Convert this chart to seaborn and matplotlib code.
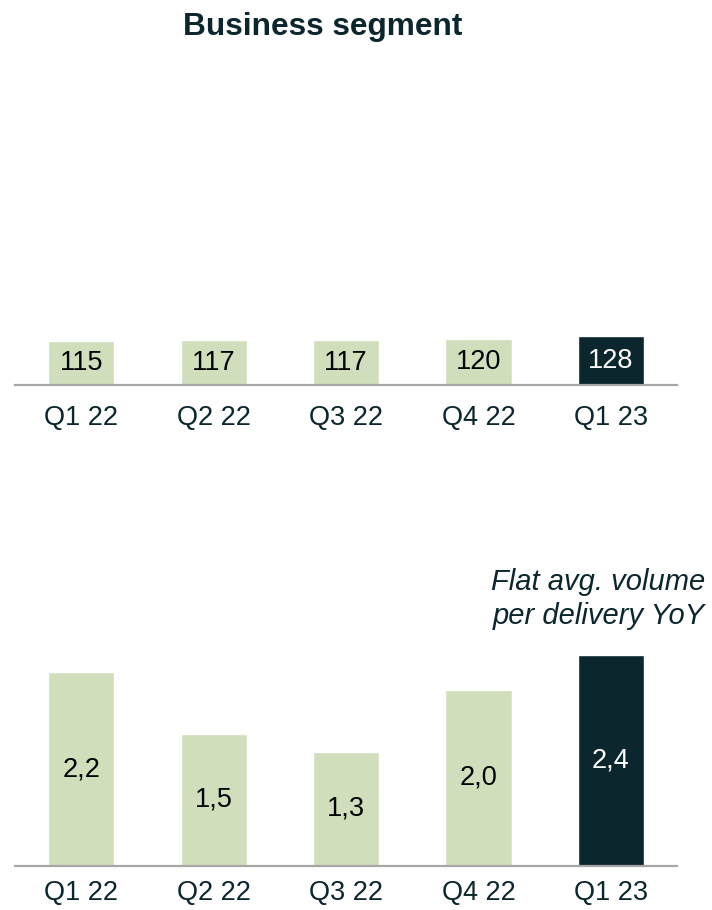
import matplotlib
matplotlib.use("Agg")
import matplotlib.pyplot as plt
import seaborn as sns

# Data
quarters = ["Q1 22", "Q2 22", "Q3 22", "Q4 22", "Q1 23"]
deliveries = [115, 117, 117, 120, 128]
volume = [2.2, 1.5, 1.3, 2.0, 2.4]

LIGHT = "#D0DEBC"
DARK = "#0B272D"
GRID = "#A6A6A6"
bar_colors = [LIGHT, LIGHT, LIGHT, LIGHT, DARK]
text_colors = ["black", "black", "black", "black", "white"]

sns.set_style("white")
plt.rcParams["font.family"] = ["Liberation Sans", "DejaVu Sans"]


# Function to draw one bar panel
def draw_panel(ax, values, labels, ymax, pad):
    sns.barplot(x=quarters, y=values, hue=quarters, palette=bar_colors,
                legend=False, width=0.5, saturation=1, ax=ax)
    ax.set_xlim(-0.5, 4.5)
    ax.set_ylim(0, ymax)
    for container, lab, col in zip(ax.containers, labels, text_colors):
        ax.bar_label(container, labels=[lab], label_type="center",
                     fontsize=19.5, color=col)
    for side in ["top", "right", "left"]:
        ax.spines[side].set_visible(False)
    ax.spines["bottom"].set_color(GRID)
    ax.spines["bottom"].set_linewidth(1.6)
    ax.set_yticks([])
    ax.set_xlabel("")
    ax.set_ylabel("")
    ax.tick_params(axis="x", length=0, pad=pad, labelsize=19.5, labelcolor=DARK)


fig = plt.figure(figsize=(7.12, 9.10), dpi=100)
W, H = 712, 910

ax1 = fig.add_axes([15 / W, 1 - 385 / H, 662 / W, 285 / H])
draw_panel(ax1, deliveries, [str(v) for v in deliveries], 285 / (44 / 115), 14.5)

ax2 = fig.add_axes([15 / W, 1 - 866 / H, 662 / W, 306 / H])
draw_panel(ax2, volume, [f"{v:.1f}".replace(".", ",") for v in volume], 306 / 88, 10)

fig.text(323 / W, 1 - 35 / H, "Business segment", ha="center", va="baseline",
         fontsize=22.8, fontweight="bold", color=DARK)
fig.text(705 / W, 1 - 590 / H, "Flat avg. volume", ha="right", va="baseline",
         fontsize=21, style="italic", color=DARK)
fig.text(705 / W, 1 - 624 / H, "per delivery YoY", ha="right", va="baseline",
         fontsize=21, style="italic", color=DARK)

fig.savefig("out.png", dpi=100)
